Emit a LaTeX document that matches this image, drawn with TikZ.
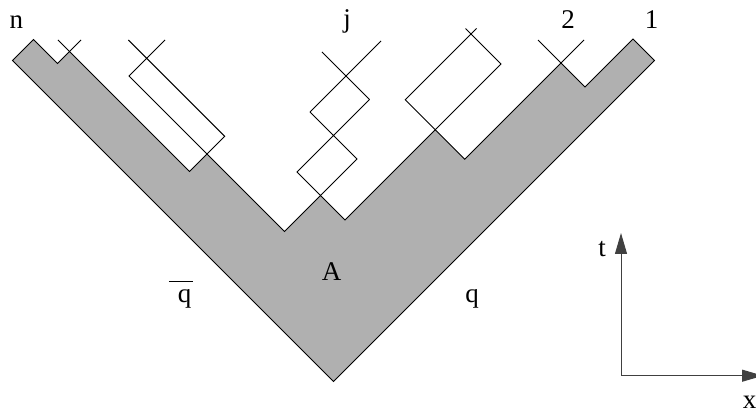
\documentclass[tikz,border=0pt]{standalone}
\usepackage{fontspec}
\setmainfont{Liberation Serif}
\usetikzlibrary{arrows.meta}
\definecolor{shade}{RGB}{176,176,176}
\begin{document}
\begin{tikzpicture}[x=1pt,y=-1pt,
  lbl/.style={font=\fontsize{27}{31}\selectfont, inner sep=0pt, anchor=base},
  edge/.style={line width=1pt, line join=miter},
  axis/.style={line width=1pt, draw=black!75, fill=black, arrows={-Triangle[length=21pt,width=12pt]}}]
\useasboundingbox (0,0) rectangle (756,414);
% gray region corners
\coordinate (bot) at (333.5,381.5);
\coordinate (p1) at (12.5,60.5);
\coordinate (p2) at (33.5,39.5);
\coordinate (p3) at (57.5,63.5);
\coordinate (p4) at (69.5,51.5);
\coordinate (v1) at (189.5,171.5);
\coordinate (b1) at (207,154);
\coordinate (vin) at (284.5,231.5);
\coordinate (eb) at (320.5,195.5);
\coordinate (dip) at (345,220);
\coordinate (b3) at (435.25,129.75);
\coordinate (v3) at (464.75,159.25);
\coordinate (x2) at (561,63);
\coordinate (rdip) at (585,87);
\coordinate (p15) at (633,39);
\coordinate (p16) at (654.5,60.5);
% left notch stubs
\coordinate (s1a) at (58,40);
\coordinate (s1b) at (81,40);
% box 1
\coordinate (t1) at (146.7,58.3);
\coordinate (l1) at (129,76);
\coordinate (r1) at (224.7,136.3);
\coordinate (t1a) at (128.4,40);
\coordinate (t1b) at (165,40);
% diamonds on line j
\coordinate (dt) at (346,76);
\coordinate (dr) at (369.5,99.5);
\coordinate (dl) at (310,112);
\coordinate (db) at (333.5,135.5);
\coordinate (er) at (357,159);
\coordinate (el) at (297,172);
\coordinate (dsa) at (322,52);
\coordinate (dsb) at (381,41);
% box 3
\coordinate (t3) at (471,34);
\coordinate (r3) at (501,64);
\coordinate (l3) at (405.25,99.75);
\coordinate (t3a) at (465.5,28.5);
\coordinate (t3b) at (476.5,28.5);
% right notch stubs
\coordinate (x2a) at (538,40);
\coordinate (x2b) at (584,40);
% axes
\coordinate (o) at (621,375.7);
\coordinate (ta) at (621,233);
\coordinate (xa) at (763,375.7);

\filldraw[fill=shade, edge] (bot) -- (p1) -- (p2) -- (p3) -- (p4) -- (v1) -- (b1)
  -- (vin) -- (eb) -- (dip) -- (b3) -- (v3) -- (x2) -- (rdip) -- (p15) -- (p16) -- cycle;

\draw[edge] (s1a) -- (p4);
\draw[edge] (s1b) -- (p4);
\draw[edge] (t1a) -- (r1) -- (b1) -- (l1) -- (t1b);
\draw[edge] (dsa) -- (dr);
\draw[edge] (dsb) -- (dl);
\draw[edge] (dl) -- (er) -- (eb) -- (el) -- (dr);
\draw[edge] (t3a) -- (r3) -- (b3) -- (l3) -- (t3b);
\draw[edge] (x2a) -- (x2);
\draw[edge] (x2b) -- (x2);

\draw[axis] (o) -- (ta);
\draw[axis] (o) -- (xa);

\node[lbl] (ln) at (16.3,28.3) {n};
\node[lbl] (lj) at (347,27.5) {j};
\node[lbl] (l2) at (568,28.3) {2};
\node[lbl] (l1n) at (651.7,28.3) {1};
\node[lbl] (la) at (331.7,280.7) {A};
\node[lbl] (lqb) at (184.5,303) {\makebox[0pt][l]{\hspace{-9pt}\raisebox{21pt}{\rule{24pt}{1pt}}}q};
\node[lbl] (lq) at (472,303) {q};
\node[lbl] (lt) at (602,256.5) {t};
\node[lbl] (lx) at (749.5,409) {x};
\end{tikzpicture}
\end{document}
